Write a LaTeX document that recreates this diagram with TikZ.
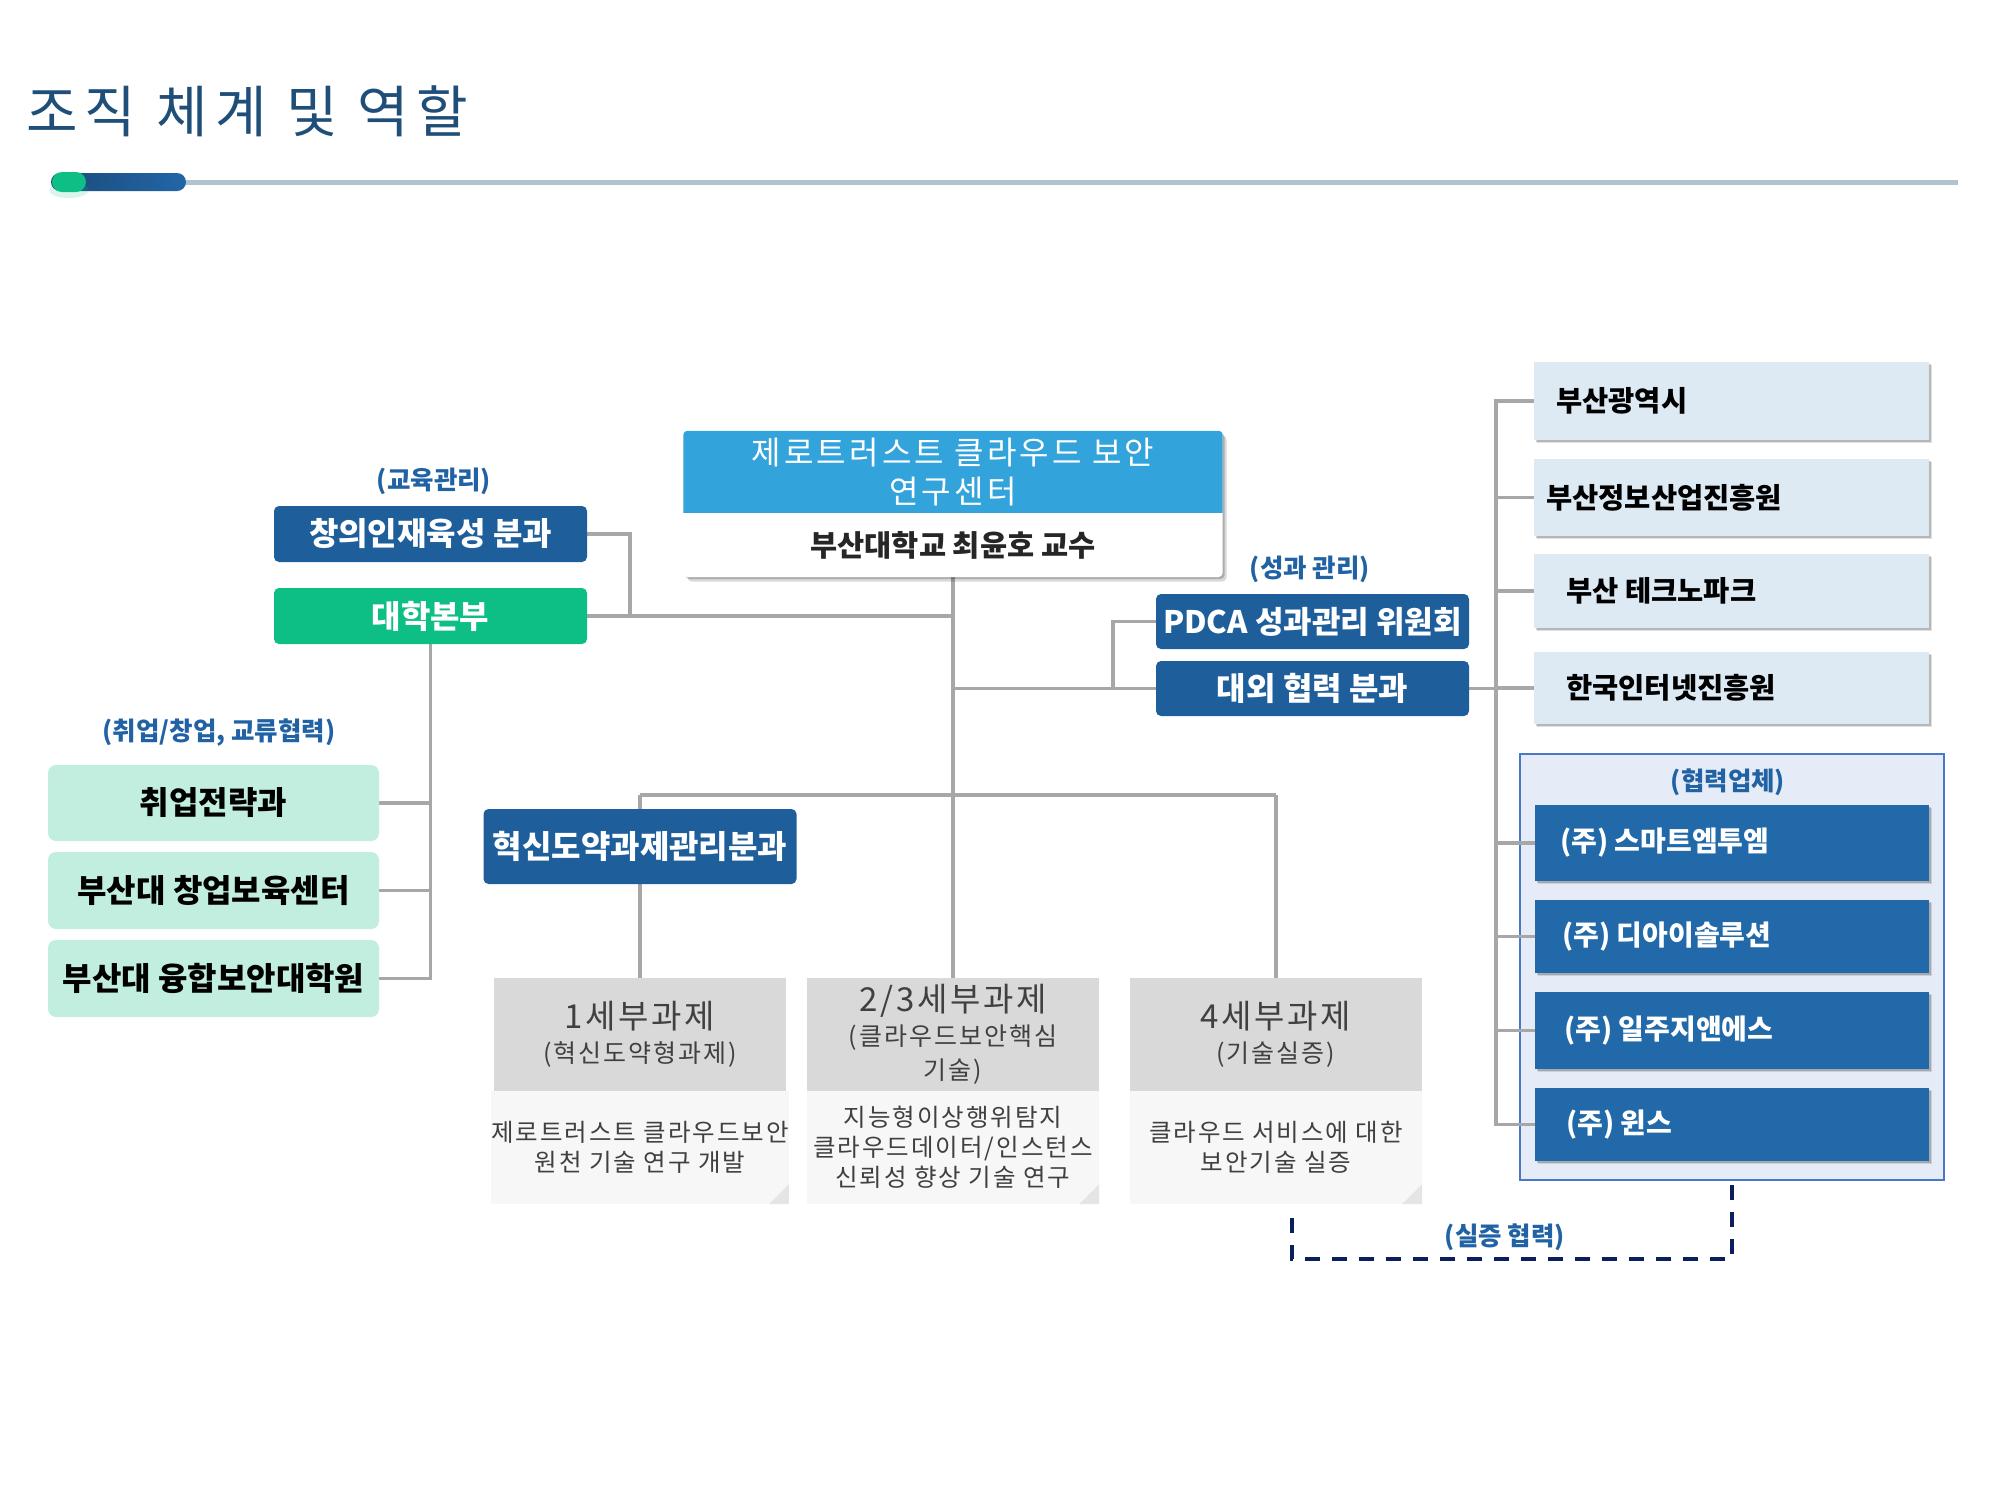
\documentclass[tikz,border=0pt]{standalone}
\usepackage{fontspec}
\setmainfont{Noto Sans CJK KR}
\newfontfamily\titlefont[LetterSpace=13]{Noto Sans CJK KR}
\newfontfamily\ctrfont[LetterSpace=10]{Noto Sans CJK KR}
\newfontfamily\spfont[LetterSpace=8]{Noto Sans CJK KR}
\usetikzlibrary{shadows,calc}
\pgfdeclarelayer{back}
\pgfdeclarelayer{bg}
\pgfsetlayers{back,bg,main}
\newcommand\kfs[2]{\fontsize{#1}{#2}\selectfont}
\definecolor{titleblue}{HTML}{1F4E79}
\definecolor{dblue}{HTML}{1E5F9B}
\definecolor{cblue}{HTML}{2169A8}
\definecolor{kgreen}{HTML}{0DBF85}
\definecolor{mint}{HTML}{C2EEDF}
\definecolor{lblue}{HTML}{DDEAF4}
\definecolor{pfill}{HTML}{E6ECF7}
\definecolor{pborder}{HTML}{4A78C8}
\definecolor{skyblue}{HTML}{33A3DC}
\definecolor{hgray}{HTML}{D9D9D9}
\definecolor{bgray}{HTML}{F7F7F7}
\definecolor{lgray}{HTML}{A8A6A6}
\definecolor{lblblue}{HTML}{2162A4}
\definecolor{navy}{HTML}{0B1F5C}
\definecolor{txtgray}{HTML}{404040}
\definecolor{rulegray}{HTML}{B0C4CE}
\definecolor{bardark}{HTML}{1B4A78}
\definecolor{barlight}{HTML}{2266A8}
\tikzset{
 conn/.style={draw=lgray, line width=3.5pt},
 bshadow/.style={drop shadow={shadow xshift=1.5pt, shadow yshift=-1.5pt, opacity=0.18, fill=black},
                 drop shadow={shadow xshift=3pt, shadow yshift=-3pt, opacity=0.12, fill=black}},
 dbox/.style={fill=dblue, draw=none, rounded corners=5pt, text=white, font=\bfseries\kfs{32}{36}, inner sep=0pt, minimum width=313pt},
 gbox/.style={dbox, fill=kgreen},
 mbox/.style={fill=mint, draw=none, rounded corners=8pt, text=black, font=\bfseries\kfs{32}{36}, inner sep=0pt, minimum width=331pt},
 rbox/.style={fill=lblue, draw=none, minimum width=395pt, inner sep=0pt, bshadow},
 cbox/.style={fill=cblue, draw=none, minimum width=394pt, inner sep=0pt, bshadow},
 rtext/.style={anchor=west, inner sep=0pt, font=\bfseries\kfs{28.5}{32}, text=black},
 ctext/.style={anchor=west, inner sep=0pt, font=\bfseries\kfs{28}{32}, text=white},
 lbl/.style={text=lblblue, font=\bfseries\kfs{25.5}{30}, inner sep=0pt},
 sth/.style={fill=hgray, draw=none, minimum width=292pt, minimum height=113pt, inner sep=0pt, align=center, text=txtgray, font=\spfont\kfs{25}{34}},
 stb/.style={fill=bgray, draw=none, minimum width=292pt, minimum height=113pt, inner sep=0pt, align=center, text=txtgray, font=\spfont\kfs{24.5}{30}},
 dashline/.style={draw=navy, line width=4.5pt, dash pattern=on 15pt off 12pt},
}
\begin{document}
\begin{tikzpicture}[x=1pt,y=-1pt]
\useasboundingbox (0,0) rectangle (2000,1500);
\coordinate (partNW) at (1520,754);
\coordinate (partSE) at (1944,1180);
\coordinate (partS) at (1732,1180);
\begin{pgfonlayer}{back}
\fill[white] (0,0) rectangle (2000,1500);
\filldraw[fill=pfill, draw=pborder, line width=2.5pt] (partNW) rectangle (partSE);
\end{pgfonlayer}

% title
\node[anchor=west, inner sep=0pt, text=titleblue, font=\titlefont\kfs{56}{64}] (title) at (26,111) {조직 체계 및 역할};
\draw[rulegray, line width=5pt] (180,182) -- (1958,182);
\shade[left color=bardark, right color=barlight, rounded corners=9pt] (51,173) rectangle (186,191);
\fill[kgreen, opacity=0.15] (69,190) ellipse (20pt and 8pt);
\fill[kgreen, rounded corners=10pt] (52,172) rectangle (86,192);

% centre box
\node[fill=white, draw=none, rounded corners=4pt, minimum width=539pt, minimum height=146pt, inner sep=0pt,
  drop shadow={shadow xshift=2pt, shadow yshift=-2pt, opacity=0.2, fill=black},
  drop shadow={shadow xshift=4pt, shadow yshift=-4.5pt, opacity=0.15, fill=black}] (ctr) at (953,504) {};
\begin{scope}
\clip (ctr.north west) rectangle ($(ctr.north east)+(0,82)$);
\fill[skyblue, rounded corners=4pt] (ctr.north west) rectangle (ctr.south east);
\end{scope}
\node[align=center, text=white, font=\ctrfont\kfs{32}{39}, inner sep=0pt] (ctrtitle) at (953,472) {제로트러스트 클라우드 보안\\연구센터};
\node[font=\bfseries\kfs{29.5}{34}, text=black!85, inner sep=0pt] (ctrname) at (953,545) {부산대학교 최윤호 교수};

% left upper
\node[lbl] (edulbl) at (434,481) {(교육관리)};
\node[dbox, minimum height=56pt] (chang) at (430.5,534) {창의인재육성 분과};
\node[gbox, minimum height=56pt] (daehak) at (430.5,616) {대학본부};

% left lower
\node[lbl] (joblbl) at (219,733) {(취업/창업, 교류협력)};
\node[mbox, minimum height=76pt] (job1) at (213.5,803) {취업전략과};
\node[mbox, minimum height=77pt] (job2) at (213.5,890.5) {부산대 창업보육센터};
\node[mbox, minimum height=77pt] (job3) at (213.5,978.5) {부산대 융합보안대학원};

% performance
\node[lbl] (perflbl) at (1310,569) {(성과 관리)};
\node[dbox, minimum height=55pt, font=\bfseries\kfs{31}{36}] (pdca) at (1312.5,621.5) {PDCA 성과관리 위원회};
\node[dbox, minimum height=55pt] (daeoe) at (1312.5,688.5) {대외 협력 분과};

% innovation
\node[dbox, minimum height=75pt] (hyuk) at (640,846.5) {혁신도약과제관리분과};

% subtasks
\node[sth] (st1h) at (640,1034.5) {{\kfs{33}{38}1세부과제}\\(혁신도약형과제)};
\node[stb] (st1b) at (640,1147.5) {제로트러스트 클라우드보안\\원천 기술 연구 개발};
\node[sth] (st2h) at (953,1034.5) {{\kfs{33}{34}2/3세부과제}\\(클라우드보안핵심\\기술)};
\node[stb] (st2b) at (953,1147.5) {지능형이상행위탐지\\클라우드데이터/인스턴스\\신뢰성 향상 기술 연구};
\node[sth] (st3h) at (1276,1034.5) {{\kfs{33}{38}4세부과제}\\(기술실증)};
\node[stb] (st3b) at (1276,1147.5) {클라우드 서비스에 대한\\보안기술 실증};
\foreach \s in {st1b,st2b,st3b}{
  \fill[black!10] (\s.south east) -- ++(-20,0) -- ++(20,-20) -- cycle;
}

% right column
\node[rbox, minimum height=78pt] (r1) at (1731.5,401) {};
\node[rtext] (r1t) at (1556,401) {부산광역시};
\node[rbox, minimum height=77pt] (r2) at (1731.5,497.5) {};
\node[rtext] (r2t) at (1546,497.5) {부산정보산업진흥원};
\node[rbox, minimum height=74pt] (r3) at (1731.5,591) {};
\node[rtext] (r3t) at (1566,591) {부산 테크노파크};
\node[rbox, minimum height=72pt] (r4) at (1731.5,688) {};
\node[rtext] (r4t) at (1566,688) {한국인터넷진흥원};

% partners
\node[lbl] (partlbl) at (1728,782) {(협력업체)};
\node[cbox, minimum height=76pt] (c1) at (1732,843) {};
\node[ctext] (c1t) at (1560,843) {(주) 스마트엠투엠};
\node[cbox, minimum height=73pt] (c2) at (1732,936.5) {};
\node[ctext] (c2t) at (1562,936.5) {(주) 디아이솔루션};
\node[cbox, minimum height=77pt] (c3) at (1732,1030.5) {};
\node[ctext] (c3t) at (1564,1030.5) {(주) 일주지앤에스};
\node[cbox, minimum height=73pt] (c4) at (1732,1124.5) {};
\node[ctext] (c4t) at (1566,1124.5) {(주) 윈스};

% connectors
\coordinate (bar) at (953,795);
\coordinate (rail) at ($(r1.west)+(-38,0)$);
\begin{pgfonlayer}{bg}
\draw[conn] (chang.east) -- ++(43,0) |- (daehak.east);
\draw[conn] (daehak.east) -- (daehak.east -| ctr.south);
\draw[conn] (ctr.south) -- (st2h.north);
\draw[conn] (st1h.north |- bar) -- (st3h.north |- bar);
\draw[conn] (st1h.north |- bar) -- (st1h.north);
\draw[conn] (st3h.north |- bar) -- (st3h.north);
\draw[conn] (daehak.south) |- (job3.east);
\draw[conn] (job1.east) -- (job1.east -| daehak.south);
\draw[conn] (job2.east) -- (job2.east -| daehak.south);
\draw[conn] (ctr.south |- daeoe.west) -- (daeoe.west);
\draw[conn] (daeoe.west) ++(-43,0) |- (pdca.west);
\draw[conn] (daeoe.east) -- (daeoe.east -| rail);
\draw[conn] (r1.west) -- (rail) |- (c4.west);
\foreach \b in {r2,r3,r4,c1,c2,c3}{
  \draw[conn] (\b.west) -- (\b.west -| rail);
}
\end{pgfonlayer}

% dashed cooperation
\coordinate (dashA) at (1292,1218);
\draw[dashline] (dashA) |- ([yshift=-79pt]partS) -- (partS);
\node[lbl] (coop) at (1505,1237) {(실증 협력)};
\end{tikzpicture}
\end{document}
